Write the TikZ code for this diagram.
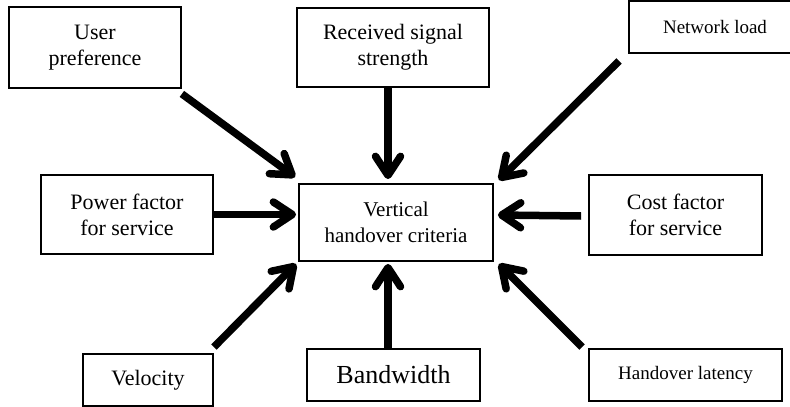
\documentclass[tikz,border=0pt]{standalone}
\usepackage{fontspec}
\setmainfont{Liberation Serif}
\usetikzlibrary{arrows.meta}

\tikzset{
  crit/.style={draw, line width=1.8pt, inner sep=0pt, align=center,
    font=\fontsize{22}{26}\selectfont},
  into/.style={line width=7.5pt,
    -{Straight Barb[length=19pt,width=25pt,round]}},
}

\begin{document}
\begin{tikzpicture}[x=1pt,y=-1pt]
  \useasboundingbox (0,0) rectangle (790,407);
  \clip (0,0) rectangle (790,407);

  % central node
  \node[crit, minimum width=194pt, minimum height=77pt,
        font=\fontsize{21}{26}\selectfont] (ctr) at (396,222.5)
        {Vertical\\handover criteria};

  % surrounding criteria
  \node[crit, minimum width=172pt, minimum height=81pt] (up)   at (95,47.5)   {User\\preference};
  \node[crit, minimum width=192pt, minimum height=79pt] (rss)  at (393,47.5)  {Received signal\\strength};
  \node[crit, minimum width=172pt, minimum height=52pt,
        font=\fontsize{19}{23}\selectfont]                 (net)  at (715,27)    {Network load};
  \node[crit, minimum width=172pt, minimum height=79pt] (pow)  at (127,214.5) {Power factor\\for service};
  \node[crit, minimum width=173pt, minimum height=80pt] (cost) at (675.5,215) {Cost factor\\for service};
  \node[crit, minimum width=130pt, minimum height=52pt] (vel)  at (148,380)   {Velocity};
  \node[crit, minimum width=173pt, minimum height=52pt,
        font=\fontsize{26}{30}\selectfont]                 (bw)   at (393.5,375) {Bandwidth};
  \node[crit, minimum width=193pt, minimum height=52pt,
        font=\fontsize{19}{23}\selectfont]                 (hl)   at (685.5,375) {Handover latency};

  % arrows into the central node
  \draw[into] ([yshift=-5pt]up.south east) -- ([xshift=-3pt,yshift=6pt]ctr.north west);
  \draw[into] ([xshift=-5pt]rss.south) -- ([xshift=-8pt,yshift=4pt]ctr.north);
  \draw[into] ([xshift=-9pt,yshift=-7pt]net.south west) -- ([xshift=5pt,yshift=3pt]ctr.north east);
  \draw[into] (pow.east) -- ([xshift=-2pt]ctr.west |- pow.east);
  \draw[into] ([xshift=-7pt,yshift=-1pt]cost.west) -- ([xshift=4pt]ctr.east |- cost.west);
  \draw[into] ([yshift=6pt]vel.north east) -- ([xshift=-2pt,yshift=-2pt]ctr.south west);
  \draw[into] ([xshift=-5.5pt]bw.north) -- ([xshift=-8pt,yshift=-2pt]ctr.south);
  \draw[into] ([xshift=-6pt,yshift=1pt]hl.north west) -- ([xshift=5pt,yshift=-2pt]ctr.south east);
\end{tikzpicture}
\end{document}
